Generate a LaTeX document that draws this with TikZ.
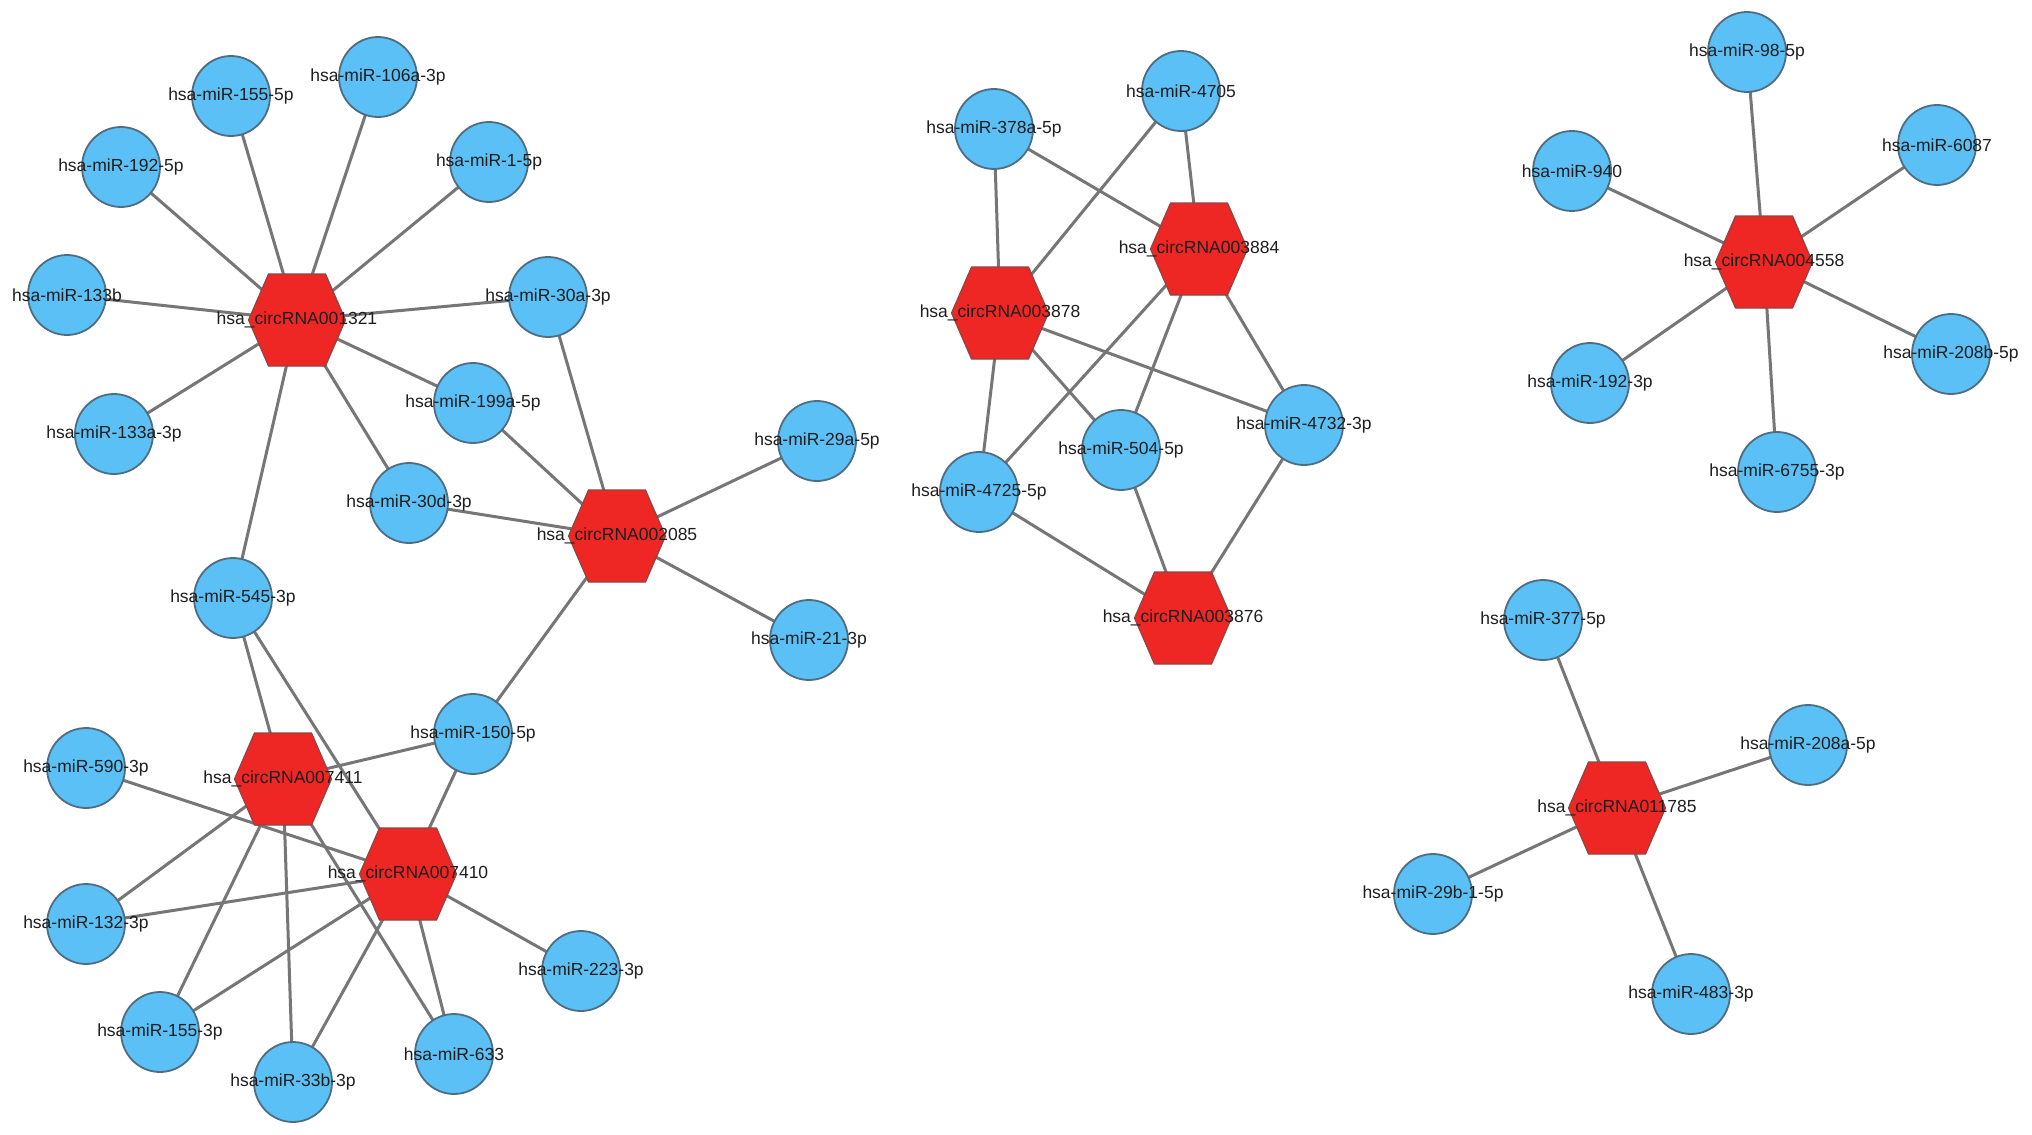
\documentclass[tikz,border=0pt]{standalone}
\usepackage{fontspec}
\setmainfont{Liberation Sans}
\usetikzlibrary{shapes.geometric}
\pgfdeclarelayer{bglayer}
\pgfdeclarelayer{edgelayer}
\pgfdeclarelayer{hexlayer}
\pgfsetlayers{bglayer,edgelayer,hexlayer,main}
\definecolor{mirblue}{RGB}{90,192,246}
\definecolor{mirline}{RGB}{80,108,128}
\definecolor{hexred}{RGB}{238,38,36}
\definecolor{hexline}{RGB}{140,70,70}
\definecolor{edgegray}{RGB}{118,118,118}
\definecolor{txt}{RGB}{30,30,30}
\tikzset{
  lbl/.style={font=\fontsize{17.5}{18}\selectfont, text=txt, inner sep=0pt},
  mir/.style={ellipse, draw=mirline, line width=1.8pt, fill=mirblue, minimum width=78pt, minimum height=80pt, inner sep=0pt, label={[lbl]center:#1}},
  circnode/.style={inner sep=0pt, minimum size=0pt, label={[lbl]center:#1}},
  hexshape/.style={fill=hexred, draw=hexline, line width=1.2pt, line join=miter},
  link/.style={draw=edgegray, line width=3pt},
}
\newcommand\hexat[1]{%
  \begin{pgfonlayer}{hexlayer}
    \filldraw[hexshape] ([shift={(-48.5,0)}]#1.center) -- ([shift={(-28.5,-46)}]#1.center) -- ([shift={(28.5,-46)}]#1.center) -- ([shift={(48.5,0)}]#1.center) -- ([shift={(28.5,46)}]#1.center) -- ([shift={(-28.5,46)}]#1.center) -- cycle;
  \end{pgfonlayer}}
\begin{document}
\begin{tikzpicture}[x=1pt,y=-1pt]
\begin{pgfonlayer}{bglayer}
\fill[white] (0,0) rectangle (2032,1135);
\end{pgfonlayer}
\useasboundingbox (0,0) rectangle (2032,1135);
% cluster 1
\node[circnode=hsa\_circRNA001321] (c1321) at (297,320) {};
\node[circnode=hsa\_circRNA002085] (c2085) at (617,536) {};
\node[circnode=hsa\_circRNA007411] (c7411) at (283,779) {};
\node[circnode=hsa\_circRNA007410] (c7410) at (408,874) {};
\node[mir=hsa-miR-155-5p] (m1555p) at (231,96) {};
\node[mir=hsa-miR-106a-3p] (m106a) at (378,77) {};
\node[mir=hsa-miR-192-5p] (m1925p) at (121,167) {};
\node[mir=hsa-miR-1-5p] (m15p) at (489,162) {};
\node[mir=hsa-miR-133b] (m133b) at (67,295) {};
\node[mir=hsa-miR-30a-3p] (m30a) at (548,297) {};
\node[mir=hsa-miR-133a-3p] (m133a) at (114,434) {};
\node[mir=hsa-miR-199a-5p] (m199a) at (473,403) {};
\node[mir=hsa-miR-30d-3p] (m30d) at (409,503) {};
\node[mir=hsa-miR-545-3p] (m545) at (233,598) {};
\node[mir=hsa-miR-29a-5p] (m29a) at (817,441) {};
\node[mir=hsa-miR-21-3p] (m21) at (809,640) {};
\node[mir=hsa-miR-150-5p] (m150) at (473,734) {};
\node[mir=hsa-miR-590-3p] (m590) at (86,768) {};
\node[mir=hsa-miR-132-3p] (m132) at (86,924) {};
\node[mir=hsa-miR-155-3p] (m1553p) at (160,1032) {};
\node[mir=hsa-miR-33b-3p] (m33b) at (293,1082) {};
\node[mir=hsa-miR-633] (m633) at (454,1054) {};
\node[mir=hsa-miR-223-3p] (m223) at (581,971) {};
% cluster 2
\node[circnode=hsa\_circRNA003884] (c3884) at (1199,249) {};
\node[circnode=hsa\_circRNA003878] (c3878) at (1000,313) {};
\node[circnode=hsa\_circRNA003876] (c3876) at (1183,618) {};
\node[mir=hsa-miR-4705] (m4705) at (1181,91) {};
\node[mir=hsa-miR-378a-5p] (m378a) at (994,129) {};
\node[mir=hsa-miR-4732-3p] (m4732) at (1304,425) {};
\node[mir=hsa-miR-504-5p] (m504) at (1121,450) {};
\node[mir=hsa-miR-4725-5p] (m4725) at (979,492) {};
% cluster 3
\node[circnode=hsa\_circRNA004558] (c4558) at (1764,262) {};
\node[mir=hsa-miR-98-5p] (m98) at (1747,52) {};
\node[mir=hsa-miR-6087] (m6087) at (1937,145) {};
\node[mir=hsa-miR-940] (m940) at (1572,171) {};
\node[mir=hsa-miR-208b-5p] (m208b) at (1951,354) {};
\node[mir=hsa-miR-192-3p] (m1923p) at (1590,383) {};
\node[mir=hsa-miR-6755-3p] (m6755) at (1777,472) {};
% cluster 4
\node[circnode=hsa\_circRNA011785] (c11785) at (1617,808) {};
\node[mir=hsa-miR-377-5p] (m377) at (1543,620) {};
\node[mir=hsa-miR-208a-5p] (m208a) at (1808,745) {};
\node[mir=hsa-miR-29b-1-5p] (m29b) at (1433,894) {};
\node[mir=hsa-miR-483-3p] (m483) at (1691,994) {};
% hexagons
\foreach \h in {c1321,c2085,c7411,c7410,c3884,c3878,c3876,c4558,c11785} {\hexat{\h}}
% edges
\begin{pgfonlayer}{edgelayer}
\foreach \a/\b in {c1321/m1555p,c1321/m106a,c1321/m1925p,c1321/m15p,c1321/m133b,c1321/m30a,c1321/m133a,c1321/m199a,c1321/m30d,c1321/m545,
  c2085/m30a,c2085/m199a,c2085/m30d,c2085/m29a,c2085/m21,c2085/m150,
  c7411/m545,c7411/m150,c7411/m132,c7411/m1553p,c7411/m33b,c7411/m633,
  c7410/m545,c7410/m150,c7410/m590,c7410/m132,c7410/m1553p,c7410/m33b,c7410/m633,c7410/m223,
  c3878/m378a,c3884/m378a,c3878/m4705,c3884/m4705,c3878/m4725,c3878/m504,c3878/m4732,c3884/m4725,c3884/m504,c3884/m4732,c3876/m4725,c3876/m504,c3876/m4732,
  c4558/m98,c4558/m6087,c4558/m940,c4558/m208b,c4558/m1923p,c4558/m6755,
  c11785/m377,c11785/m208a,c11785/m29b,c11785/m483}
  {\draw[link] (\a.center) -- (\b.center);}
\end{pgfonlayer}
\end{tikzpicture}
\end{document}
